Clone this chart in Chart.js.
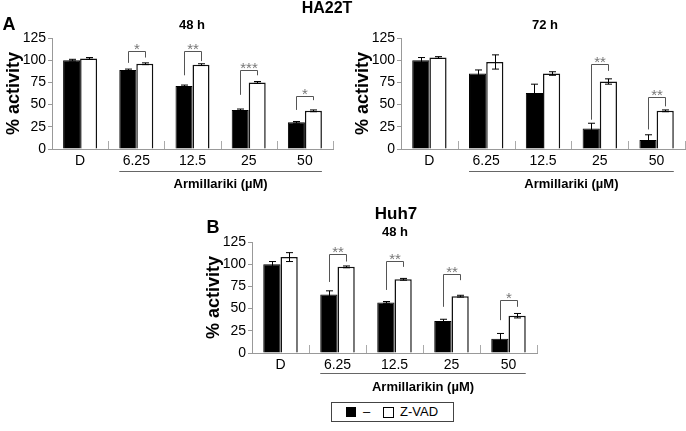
<!DOCTYPE html>
<html>
<head>
<meta charset="utf-8">
<script src="https://cdn.jsdelivr.net/npm/chart.js@4.4.0/dist/chart.umd.min.js"></script>
<style>
body { margin: 0; width: 686px; height: 431px; background: #fff; position: relative; overflow: hidden;
       font-family: 'Liberation Sans', Arial, sans-serif; }
canvas { position: absolute; }
.lbl { position: absolute; transform: translate(-50%, -50%); line-height: 1; font-weight: bold; white-space: nowrap; color: #000; }
#legend { position: absolute; left: 331px; top: 402px; width: 121px; height: 18px; border: 1px solid #444;
          font-size: 13px; line-height: 18px; }
#legend span { position: absolute; }
</style>
</head>
<body>
<canvas id="c48" width="340" height="200" style="left:0;top:0"></canvas>
<canvas id="c72" width="337" height="200" style="left:349px;top:0"></canvas>
<canvas id="cHuh" width="345" height="200" style="left:200px;top:200px"></canvas>

<div class="lbl" style="left:9px;top:24px;font-size:18px">A</div>
<div class="lbl" style="left:327px;top:8px;font-size:16px">HA22T</div>
<div class="lbl" style="left:192px;top:24px;font-size:13px">48 h</div>
<div class="lbl" style="left:545px;top:24px;font-size:13px">72 h</div>
<div class="lbl" style="left:213px;top:227px;font-size:18px">B</div>
<div class="lbl" style="left:396px;top:213px;font-size:17px">Huh7</div>
<div class="lbl" style="left:395px;top:231px;font-size:13px">48 h</div>

<div id="legend">
  <span style="left:14px;top:4px;width:10px;height:10px;background:#000"></span>
  <span style="left:31px;top:0">–</span>
  <span style="left:51px;top:4px;width:9px;height:9px;border:1px solid #000;background:#fff"></span>
  <span style="left:68px;top:0">Z-VAD</span>
</div>

<script>
const categories = ['D', '6.25', '12.5', '25', '50'];

// HA22T 48 h
const ha48Ctrl = [100, 89, 71, 44, 30];
const ha48CtrlErr = [1, 1, 1, 1, 1];
const ha48Zvad = [102, 96, 95, 75, 43];
const ha48ZvadErr = [1, 1, 1, 1, 1];
const ha48Sig = ['', '*', '**', '***', '*'];
const ha48BrTop = [null, 110, 110, 89, 60];
const ha48BrLeft = [null, 97, 83, 61, 44];
const ha48BrRight = [null, 103, 99, 83, 55];

// HA22T 72 h
const ha72Ctrl = [100, 85, 63, 23, 10];
const ha72CtrlErr = [3, 4, 10, 6, 6];
const ha72Zvad = [103, 98, 85, 76, 43];
const ha72ZvadErr = [1, 8, 2, 3, 1];
const ha72Sig = ['', '', '', '**', '**'];
const ha72BrTop = [null, null, null, 96, 59];
const ha72BrLeft = [null, null, null, 33, 22];
const ha72BrRight = [null, null, null, 88, 48];

// Huh7 48 h
const huhCtrl = [100, 66, 57, 36, 16];
const huhCtrlErr = [3, 4, 1, 2, 6];
const huhZvad = [108, 97, 83, 64, 42];
const huhZvadErr = [5, 1, 1, 1, 2.5];
const huhSig = ['', '**', '**', '**', '*'];
const huhBrTop = [null, 112, 104, 89, 60];
const huhBrLeft = [null, 80, 71, 52, 37];
const huhBrRight = [null, 103, 97, 82, 52];

const FONT = "'Liberation Sans', Arial, sans-serif";
Chart.defaults.font.family = FONT;

const extras = {
    id: 'extras',
    afterDatasetsDraw(chart) {
        const o = chart.options.plugins.extras;
        const { ctx, chartArea, scales: { x, y } } = chart;
        const m0 = chart.getDatasetMeta(0), m1 = chart.getDatasetMeta(1);
        ctx.save();

        // inward tick marks between categories
        ctx.strokeStyle = '#aaa';
        ctx.lineWidth = 1;
        for (let i = 1; i <= categories.length; i++) {
            const xp = Math.round(x.getPixelForValue(i - 0.5)) + 0.5;
            ctx.beginPath();
            ctx.moveTo(xp, chartArea.bottom);
            ctx.lineTo(xp, chartArea.bottom - 8);
            ctx.stroke();
        }

        // error bars
        ctx.strokeStyle = '#000';
        [[m0, o.err[0], o.val[0]], [m1, o.err[1], o.val[1]]].forEach(([meta, err, val]) => {
            meta.data.forEach((bar, i) => {
                const yt = y.getPixelForValue(val[i] + err[i]);
                const yb = y.getPixelForValue(val[i] - err[i]);
                const xp = Math.round(bar.x) + 0.5;
                ctx.beginPath();
                ctx.moveTo(xp, yt); ctx.lineTo(xp, yb);
                ctx.moveTo(xp - 3.5, yt); ctx.lineTo(xp + 3.5, yt);
                ctx.moveTo(xp - 3.5, yb); ctx.lineTo(xp + 3.5, yb);
                ctx.stroke();
            });
        });

        // significance brackets
        ctx.strokeStyle = '#555';
        ctx.fillStyle = '#777';
        ctx.font = '15px ' + FONT;
        ctx.textAlign = 'center';
        ctx.textBaseline = 'middle';
        o.sig.forEach((s, i) => {
            if (!s) return;
            const xl = Math.round(m0.data[i].x) + 0.5;
            const xr = Math.round(m1.data[i].x) + 0.5;
            const yt = Math.round(y.getPixelForValue(o.top[i])) + 0.5;
            ctx.beginPath();
            ctx.moveTo(xl, y.getPixelForValue(o.left[i]));
            ctx.lineTo(xl, yt);
            ctx.lineTo(xr, yt);
            ctx.lineTo(xr, y.getPixelForValue(o.right[i]));
            ctx.stroke();
            ctx.fillText(s, (xl + xr) / 2, yt - 2);
        });

        // group underline and title
        const b1 = m0.data[1], b4 = m1.data[4];
        const lx1 = b1.x - b1.width / 2, lx2 = b4.x + b4.width / 2;
        const ly = chartArea.bottom + o.lineOff + 0.5;
        ctx.strokeStyle = '#666';
        ctx.beginPath();
        ctx.moveTo(lx1, ly); ctx.lineTo(lx2, ly);
        ctx.stroke();
        ctx.fillStyle = '#000';
        ctx.font = 'bold 13px ' + FONT;
        ctx.fillText(o.group, (lx1 + lx2) / 2, chartArea.bottom + o.titleOff);
        ctx.restore();
    }
};

function makeChart(id, ctrl, ctrlErr, zvad, zvadErr, sig, top, left, right, group, padTop, padRight, xHeight, lineOff, titleOff) {
    return new Chart(document.getElementById(id), {
        type: 'bar',
        data: {
            labels: categories,
            datasets: [{
                label: '–',
                data: ctrl,
                backgroundColor: '#000',
                borderColor: '#000',
                borderWidth: 1,
                barPercentage: 1,
                categoryPercentage: 0.605
            }, {
                label: 'Z-VAD',
                data: zvad,
                backgroundColor: '#fff',
                borderColor: '#111',
                borderWidth: 1.5,
                barPercentage: 1,
                categoryPercentage: 0.605
            }]
        },
        options: {
            responsive: false,
            animation: false,
            devicePixelRatio: 1,
            layout: { padding: { top: padTop, right: padRight, left: 0, bottom: 0 } },
            plugins: {
                legend: { display: false },
                tooltip: { enabled: false },
                extras: {
                    val: [ctrl, zvad], err: [ctrlErr, zvadErr],
                    sig: sig, top: top, left: left, right: right,
                    group: group, lineOff: lineOff, titleOff: titleOff
                }
            },
            scales: {
                x: {
                    grid: { display: false, drawTicks: false, tickLength: 0 },
                    border: { color: '#999' },
                    ticks: { color: '#000', font: { size: 14 }, padding: 4 },
                    afterFit(s) { s.height = xHeight; }
                },
                y: {
                    min: 0,
                    max: 125,
                    ticks: { stepSize: 25, color: '#000', font: { size: 14 }, padding: 2 },
                    grid: { drawOnChartArea: false, tickLength: 4, color: '#999' },
                    border: { color: '#999' },
                    title: { display: true, text: '% activity', color: '#000',
                             font: { size: 18, weight: 'bold' }, padding: { top: 3, bottom: 0 } },
                    afterFit(s) { s.width = 52; }
                }
            }
        },
        plugins: [extras]
    });
}

makeChart('c48', ha48Ctrl, ha48CtrlErr, ha48Zvad, ha48ZvadErr, ha48Sig, ha48BrTop, ha48BrLeft, ha48BrRight,
          'Armillariki (µM)', 38, 7, 51, 22, 35);
makeChart('c72', ha72Ctrl, ha72CtrlErr, ha72Zvad, ha72ZvadErr, ha72Sig, ha72BrTop, ha72BrLeft, ha72BrRight,
          'Armillariki (µM)', 38, 1, 51, 22, 35);
makeChart('cHuh', huhCtrl, huhCtrlErr, huhZvad, huhZvadErr, huhSig, huhBrTop, huhBrLeft, huhBrRight,
          'Armillarikin (µM)', 42, 8, 47, 20, 34);
</script>
</body>
</html>
